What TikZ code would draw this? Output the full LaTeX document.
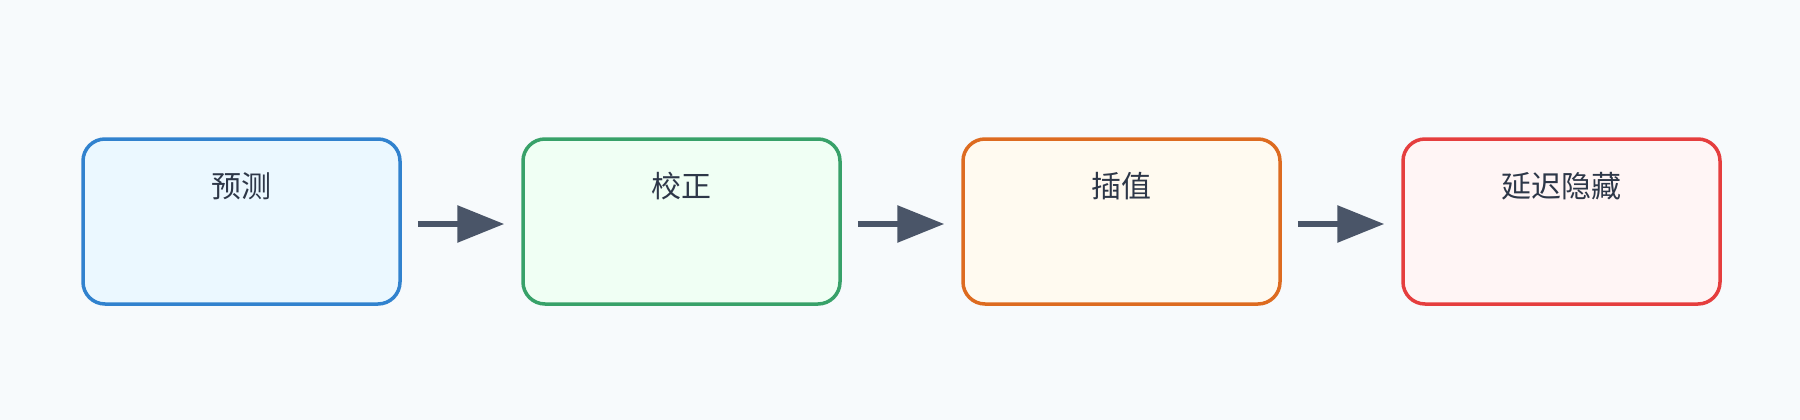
\documentclass[tikz,border=0pt]{standalone}
\usepackage{fontspec}
\newfontfamily\cjk{Noto Sans CJK SC}
\usetikzlibrary{arrows.meta}
\definecolor{bg}{HTML}{F7FAFC}
\definecolor{txtc}{HTML}{2D3748}
\definecolor{arrc}{HTML}{4A5568}
\definecolor{bluS}{HTML}{3182CE}\definecolor{bluF}{HTML}{EBF8FF}
\definecolor{grnS}{HTML}{38A169}\definecolor{grnF}{HTML}{F0FFF4}
\definecolor{orgS}{HTML}{DD6B20}\definecolor{orgF}{HTML}{FFFAF0}
\definecolor{redS}{HTML}{E53E3E}\definecolor{redF}{HTML}{FFF5F5}
\tikzset{
  stagebox/.style={draw, line width=3.5pt, rounded corners=22pt, minimum width=317pt, minimum height=165pt, inner sep=0pt},
  stagetxt/.style={text=txtc, font=\cjk\fontsize{30}{36}\selectfont, inner sep=0pt, anchor=center},
  flow/.style={draw=arrc, line width=6pt, -{Triangle[length=47pt,width=36pt]}, arrc, shorten <=16pt, shorten >=17pt}
}
\begin{document}
\begin{tikzpicture}[x=1pt,y=-1pt]
\fill[bg] (0,0) rectangle (1800,420);
\useasboundingbox (0,0) rectangle (1800,420);
\node[stagebox, draw=bluS, fill=bluF] (b1) at (241.5,221.5) {};
\node[stagebox, draw=grnS, fill=grnF] (b2) at (681.5,221.5) {};
\node[stagebox, draw=orgS, fill=orgF] (b3) at (1121.5,221.5) {};
\node[stagebox, draw=redS, fill=redF] (b4) at (1561.5,221.5) {};
\node[stagetxt] (t1) at ([yshift=-49pt]b1.north) {预测};
\node[stagetxt] (t2) at ([yshift=-49pt]b2.north) {校正};
\node[stagetxt] (t3) at ([yshift=-49pt]b3.north) {插值};
\node[stagetxt] (t4) at ([yshift=-49pt]b4.north) {延迟隐藏};
\draw[flow] ([yshift=-2.5pt]b1.east) -- ([yshift=-2.5pt]b2.west);
\draw[flow] ([yshift=-2.5pt]b2.east) -- ([yshift=-2.5pt]b3.west);
\draw[flow] ([yshift=-2.5pt]b3.east) -- ([yshift=-2.5pt]b4.west);
\end{tikzpicture}
\end{document}
